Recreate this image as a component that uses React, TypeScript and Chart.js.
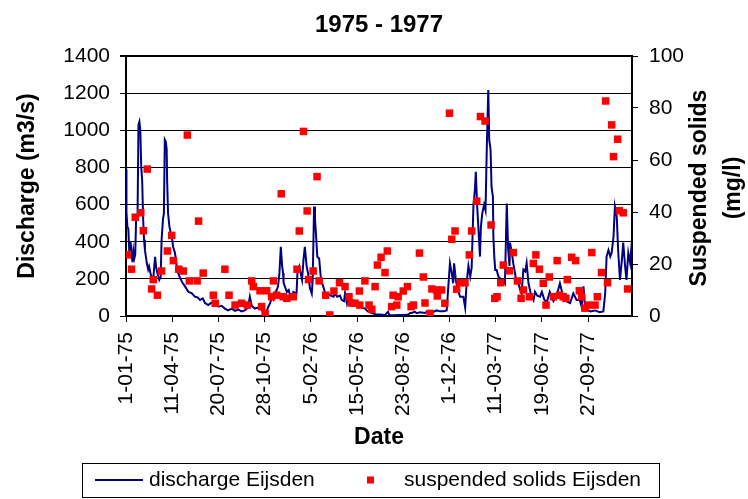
import React, { useEffect, useRef } from 'react';
import { Chart, registerables } from 'chart.js';

Chart.register(...registerables);

const FONT = '"Liberation Sans", Arial, Helvetica, sans-serif';

const chartTitle = '1975 - 1977';
const xTitle = 'Date';
const yLeftTitle = 'Discharge (m3/s)';
const yRightTitle = ['Suspended solids', '(mg/l)'];
const seriesNames = ['discharge Eijsden', 'suspended solids Eijsden'];

// x axis: days since 1-01-75
const tickDay = [0, 100, 200, 300, 400, 500, 600, 700, 800, 900, 1000];
const tickLabel = ['1-01-75', '11-04-75', '20-07-75', '28-10-75', '5-02-76', '15-05-76', '23-08-76', '1-12-76', '11-03-77', '19-06-77', '27-09-77'];

const dischargeDay = [
  0, 1, 3, 5, 7, 9, 10, 12, 14, 16, 18, 20, 22, 25, 27, 29, 31, 33, 35, 37, 39, 41,
  45, 48, 50, 53, 55, 59, 63, 65, 68, 72, 75, 77, 80, 82, 84, 86, 88, 89, 91, 94, 97, 99, 102, 106, 110, 113,
  117, 122, 128, 135, 142, 149, 155, 160, 166, 171, 178, 185, 193, 200, 207, 214, 221, 229, 236, 243, 250, 257, 264, 268, 272, 279, 286, 294, 297, 300, 304,
  308, 312, 316, 319, 322, 326, 329, 332, 335, 338, 340, 341, 344, 348, 352, 355, 359, 362, 366, 369, 371, 375, 378, 381, 384, 387, 391, 394, 398, 402, 404, 407, 409, 411, 414, 418, 422, 427, 431, 434,
  438, 443, 449, 452, 457, 463, 467, 472, 474, 478, 481, 485, 488, 496, 503, 510, 517, 524, 532, 540, 550, 560, 567, 570, 580, 590, 600, 611, 615, 618, 625, 629, 636, 647, 652, 658, 665, 672, 680, 687, 694,
  698, 701, 705, 708, 710, 714, 719, 723, 730, 734, 737, 741, 745, 748, 752, 755, 757, 760, 762, 766, 768, 771, 775, 778, 781, 784, 786, 789, 791, 794, 795, 797, 799, 802, 806, 811, 816, 820,
  824, 827, 830, 831, 835, 838, 842, 845, 849, 853, 856, 860, 864, 867, 871, 876, 882, 885, 890, 896, 900, 905, 910, 917, 925, 932, 939, 946, 953, 961, 968, 975, 982, 986, 990, 993, 997,
  1005, 1015, 1025, 1033, 1037, 1040, 1044, 1048, 1051, 1055, 1058, 1062, 1065, 1069, 1073, 1076, 1080, 1083, 1087, 1091, 1095,
];
const dischargeValue = [
  790, 560, 480, 470, 355, 360, 400, 335, 290, 350, 310, 330, 535, 540, 1030, 1046, 1000, 800, 730, 530, 410, 355,
  285, 250, 266, 230, 212, 200, 319, 266, 230, 194, 210, 409, 520, 553, 950, 940, 900, 732, 553, 481, 446, 427, 373, 339, 266, 231,
  205, 180, 158, 130, 123, 104, 100, 86, 95, 70, 59, 72, 68, 50, 55, 40, 30, 40, 28, 35, 25, 30, 45, 104, 55, 40, 45, 35, 16, 25, 23,
  50, 70, 104, 90, 120, 140, 160, 230, 373, 266, 231, 178, 158, 130, 140, 110, 104, 130, 125, 120, 231, 266, 230, 195, 301, 373, 266, 230, 150, 120, 194, 589, 520, 445, 319, 310, 194, 158, 123, 104,
  120, 110, 104, 120, 104, 110, 86, 80, 123, 70, 104, 80, 70, 59, 50, 45, 40, 23, 16, 10, 8, 5, 23, 5, 4, 5, 5, 8, 16, 16, 23, 15, 20, 16, 25, 20, 22, 30, 25, 25, 30,
  176, 284, 230, 176, 284, 190, 135, 104, 104, 45, 176, 270, 212, 260, 606, 678, 777, 589, 500, 320, 481, 553, 600, 570, 930, 1217, 948, 894, 696, 642, 427, 320, 248, 248, 212, 200, 194, 176,
  606, 360, 270, 395, 340, 285, 230, 176, 176, 140, 122, 250, 240, 285, 176, 120, 86, 130, 110, 104, 130, 90, 70, 130, 80, 110, 176, 104, 80, 70, 122, 86, 86, 50, 160, 60, 35,
  25, 30, 20, 25, 122, 320, 355, 320, 340, 427, 589, 535, 355, 194, 300, 395, 270, 194, 340, 285, 410,
];

const solidsDay = [
  3, 12, 20, 32, 37.5, 46, 55.5, 59, 68, 77,
  89.5, 99, 102.5, 114, 124, 132.7, 137, 154, 157, 167,
  189, 193, 214, 223, 236, 250, 262.5, 272, 275.5, 290,
  293.6, 301, 304.5, 315, 319, 326, 336, 340, 348, 362,
  370, 375, 384, 392, 395, 405, 413.5, 418, 432, 441,
  450, 462, 474, 482.6, 487, 495.6, 505, 506, 517, 526,
  532, 539, 544, 552, 560.5, 565.5, 575, 578, 586, 589,
  600, 609, 617, 622, 635, 643.5, 647, 658, 662, 672,
  673.7, 683, 690, 700, 705, 712, 715.6, 723, 733.6, 743,
  748, 759, 767, 777, 790, 798, 803, 811, 816.5, 829.5,
  838, 847, 855, 860, 873, 881.5, 887, 894.6, 903, 909,
  916, 925, 933, 938, 946, 952, 955, 964.5, 973, 981,
  986, 993, 1000, 1008, 1015, 1020, 1029, 1038, 1042, 1051,
  1055, 1064, 1067.5, 1076, 1085.6,
];
const solidsValue = [
  23.5, 18, 38, 39.7, 32.8, 56.5, 10.4, 14, 8, 17.3,
  25, 31, 21.3, 18, 17.3, 69.6, 13.5, 13.5, 36.5, 16.5,
  8, 4.9, 18, 8, 4.2, 4.9, 4.2, 13.5, 11.3, 9.7,
  3.6, 1, 9.7, 7.4, 13.5, 8, 47, 7.4, 6.8, 7.4,
  18, 32.7, 71, 40.4, 14, 17.3, 53.6, 13.5, 8, 0.4,
  9.6, 12.8, 11.3, 7.4, 5, 4.9, 9.6, 4.2, 13.5, 4.2,
  2.6, 11.3, 19.6, 22.6, 16.7, 25, 3.6, 8, 4.2, 7.4,
  9.6, 11.3, 3.6, 4.2, 24.2, 15, 5, 1, 10.4, 10,
  7.7, 10, 4.9, 78, 29.5, 32.7, 10.3, 12.8, 12.8, 23.5,
  32.7, 44.2, 76.7, 75, 35, 6.8, 7.4, 12.8, 19.6, 17.4,
  24.4, 13.5, 6.8, 10, 7.4, 20.2, 23.5, 18, 12.6, 4.2,
  15, 7.4, 21.3, 8, 7.4, 6.8, 14, 22.6, 21.3, 9.7,
  7.4, 3, 4.2, 24.4, 4.2, 7.4, 16.7, 82.7, 12.8, 73.5,
  61.3, 68, 40.5, 39.7, 10.4,
];

const NAVY = '#000080';
const RED = '#FF0000';

export default function App() {
  const ref = useRef<HTMLCanvasElement>(null);

  useEffect(() => {
    document.body.style.margin = '0';
    const canvas = ref.current;
    if (!canvas) return;

    const decor = {
      id: 'decor',
      afterDraw(chart: any) {
        const ctx = chart.ctx as CanvasRenderingContext2D;
        const a = chart.chartArea;
        ctx.save();
        ctx.fillStyle = '#000';
        // chart title
        ctx.font = `bold 24px ${FONT}`;
        ctx.textAlign = 'center';
        ctx.textBaseline = 'middle';
        ctx.fillText(chartTitle, (a.left + a.right) / 2, 25);
        // right axis title (reads bottom to top)
        ctx.font = `bold 23px ${FONT}`;
        const cy = (a.top + a.bottom) / 2 + 2;
        const xs = [700, 734];
        yRightTitle.forEach((t, i) => {
          ctx.save();
          ctx.translate(xs[i], cy);
          ctx.rotate(-Math.PI / 2);
          ctx.fillText(t, 0, 0);
          ctx.restore();
        });
        // legend
        ctx.strokeStyle = '#000';
        ctx.lineWidth = 1;
        ctx.strokeRect(82.5, 463.5, 577, 34);
        const ly = 480;
        ctx.strokeStyle = NAVY;
        ctx.lineWidth = 2;
        ctx.beginPath();
        ctx.moveTo(95, ly);
        ctx.lineTo(143, ly);
        ctx.stroke();
        ctx.fillStyle = RED;
        ctx.fillRect(367, ly - 3.5, 7, 7);
        ctx.fillStyle = '#000';
        ctx.font = `21px ${FONT}`;
        ctx.textAlign = 'left';
        ctx.fillText(seriesNames[0], 149, ly);
        ctx.fillText(seriesNames[1], 404, ly);
        ctx.restore();
      },
    };

    const chart = new Chart(canvas, {
      type: 'line',
      data: {
        datasets: [
          {
            label: seriesNames[0],
            data: dischargeDay.map((d, i) => ({ x: d, y: dischargeValue[i] })),
            borderColor: NAVY,
            backgroundColor: NAVY,
            borderWidth: 2,
            pointRadius: 0,
            tension: 0,
            yAxisID: 'y',
            order: 2,
          },
          {
            label: seriesNames[1],
            data: solidsDay.map((d, i) => ({ x: d, y: solidsValue[i] })),
            showLine: false,
            pointStyle: 'rect',
            pointRadius: 5.3,
            pointBorderWidth: 0,
            pointBackgroundColor: RED,
            borderColor: RED,
            backgroundColor: RED,
            yAxisID: 'y1',
            order: 1,
          },
        ],
      },
      options: {
        responsive: false,
        animation: false,
        devicePixelRatio: 1,
        layout: { padding: { top: 56, bottom: 40, left: 0, right: 0 } },
        plugins: {
          legend: { display: false },
          title: { display: false },
          tooltip: { enabled: false },
        },
        scales: {
          x: {
            type: 'linear',
            position: 'bottom',
            min: 0,
            max: 1095,
            afterBuildTicks: (s: any) => {
              s.ticks = tickDay.map((v) => ({ value: v }));
            },
            afterFit: (s: any) => {
              s.height = 143;
            },
            ticks: {
              autoSkip: false,
              minRotation: 90,
              maxRotation: 90,
              padding: 10,
              color: '#000',
              font: { size: 21, family: FONT },
              callback: (v: any) => {
                const i = tickDay.indexOf(Number(v));
                return i >= 0 ? tickLabel[i] : '';
              },
            },
            grid: { drawOnChartArea: false, drawTicks: true, tickLength: 6, color: '#000', lineWidth: 1 },
            border: { display: true, color: '#000', width: 2 },
            title: {
              display: true,
              text: xTitle,
              color: '#000',
              font: { size: 23, weight: 'bold', family: FONT },
              padding: { top: 0, bottom: 8 },
            },
          },
          y: {
            position: 'left',
            min: 0,
            max: 1400,
            afterFit: (s: any) => {
              s.width = 126;
            },
            ticks: {
              stepSize: 200,
              padding: 10,
              color: '#000',
              font: { size: 21, family: FONT },
              callback: (v: any) => String(v),
            },
            grid: {
              color: '#000',
              lineWidth: (c: any) => (c.tick && c.tick.value === 1400 ? 2 : 1),
              tickLength: 6,
            },
            border: { display: true, color: '#000', width: 2 },
            title: {
              display: true,
              text: yLeftTitle,
              color: '#000',
              font: { size: 23, weight: 'bold', family: FONT },
              padding: { top: 14, bottom: 0 },
            },
          },
          y1: {
            position: 'right',
            min: 0,
            max: 100,
            afterFit: (s: any) => {
              s.width = 116;
            },
            ticks: {
              stepSize: 20,
              padding: 11,
              color: '#000',
              font: { size: 21, family: FONT },
              callback: (v: any) => String(v),
            },
            grid: { drawOnChartArea: false, color: '#000', tickLength: 6 },
            border: { display: true, color: '#000', width: 2 },
          },
        },
      } as any,
      plugins: [decor],
    });

    return () => chart.destroy();
  }, []);

  return (
    <div style={{ width: 748, height: 499, background: '#fff' }}>
      <canvas ref={ref} width={748} height={499} style={{ display: 'block', width: 748, height: 499 }} />
    </div>
  );
}
